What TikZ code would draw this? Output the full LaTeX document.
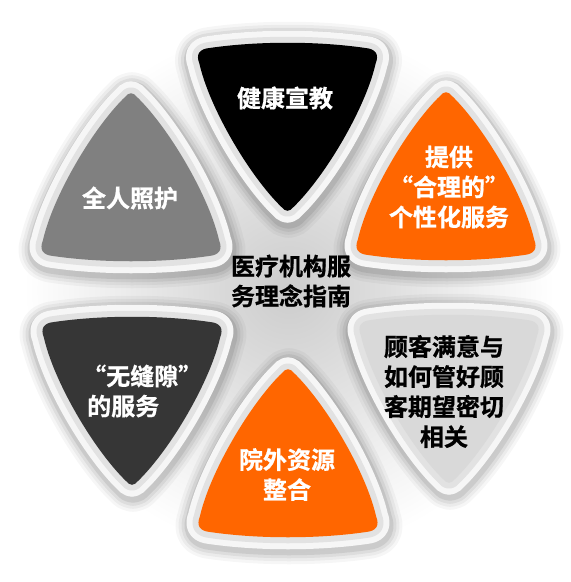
\documentclass[tikz,border=0pt]{standalone}
\usepackage{fontspec}
\newfontfamily\cjk{Noto Sans CJK SC Bold}[FakeBold=0.8]
\definecolor{cOrange}{HTML}{FF6600}
\definecolor{cDark}{HTML}{363636}
\definecolor{cGray}{HTML}{808080}
\definecolor{cLight}{HTML}{D9D9D9}
\definecolor{ringOut}{HTML}{F6F6F6}
\definecolor{ringIn}{HTML}{E2E2E2}
\newcommand\trishape{(-78,-80) .. controls (-30,-87) and (30,-87) .. (78,-80)
 .. controls (88,-79) and (92,-74) .. (88,-64)
 .. controls (78,-20) and (38,48) .. (6,79)
 .. controls (2,84) and (-2,84) .. (-6,79)
 .. controls (-38,48) and (-78,-20) .. (-88,-64)
 .. controls (-92,-74) and (-88,-79) .. (-78,-80) -- cycle}
\newcommand\trishadow[2]{%
  \begin{scope}[shift={#1}, xshift=1pt, yshift=-3pt, yscale=#2]
    \foreach \w/\o in {48/0.035,42/0.045,36/0.06,30/0.08}{
      \draw[line width=\w pt, black, opacity=\o, line join=round] \trishape;}
  \end{scope}}
\newcommand\tribody[3]{%
  \begin{scope}[shift={#1}, yscale=#2]
    \draw[line width=24pt, ringOut, line join=round] \trishape;
    \draw[line width=12pt, ringIn, line join=round] \trishape;
    \fill[#3] \trishape;
  \end{scope}}
\tikzset{
  lbl/.style={font=\cjk\fontsize{24}{30}\selectfont, align=center, inner sep=0pt},
  lblw/.style={lbl, text=white},
  lblk/.style={lbl, text=black}
}
\begin{document}
\begin{tikzpicture}[x=1pt,y=-1pt]
\useasboundingbox (0,0) rectangle (571,582);
\fill[white] (0,0) rectangle (571,582);
\shade[inner color=black!20, outer color=white] (289,290) circle (265);
% shadows
\trishadow{(287.5,128)}{1}
\trishadow{(446,175)}{-1}
\trishadow{(449,400)}{1}
\trishadow{(288,452)}{-1}
\trishadow{(132,402)}{1}
\trishadow{(131,176)}{-1}
% bodies
\tribody{(287.5,128)}{1}{black}
\tribody{(446,175)}{-1}{cOrange}
\tribody{(449,400)}{1}{cLight}
\tribody{(288,452)}{-1}{cOrange}
\tribody{(132,402)}{1}{cDark}
\tribody{(131,176)}{-1}{cGray}
% labels
\node[lblw] (tT) at (285,98) {健康宣教};
\node[lblw] (tUR) at (449,187) {提供\\“合理的”\\个性化服务};
\node[lblk] (tLR) at (444,391.5) {顾客满意与\\如何管好顾\\客期望密切\\相关};
\node[lblw] (tB) at (287,474.5) {院外资源\\整合};
\node[lblw, align=left, anchor=west] (tLL) at (82,391) {“无缝隙”\\\hspace{5pt}的服务};
\node[lblw] (tUL) at (130,198) {全人照护};
\node[lblk] (tC) at (291,281) {医疗机构服\\务理念指南};
\end{tikzpicture}
\end{document}
